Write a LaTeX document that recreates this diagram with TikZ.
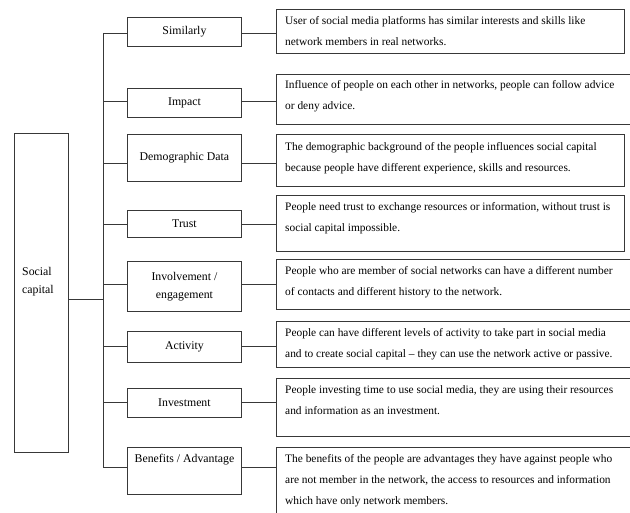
\documentclass[tikz,border=0pt]{standalone}
\usepackage{fontspec}
\setmainfont{Liberation Serif}
\begin{document}
\begin{tikzpicture}[x=1pt,y=-1pt,
  ln/.style={draw=black!78,line width=0.9pt},
  box/.style={ln,rectangle,inner sep=0pt,anchor=north west},
  rtext/.style={inner sep=0pt,anchor=north west,align=left,font=\fontsize{11.4}{21}\selectfont},
  mtext/.style={inner sep=0pt,align=center,font=\fontsize{11.8}{17.5}\selectfont}]
\useasboundingbox (0,0) rectangle (630,513);
\clip (0,0) rectangle (630,513);
% root
\node[box,minimum width=54pt,minimum height=319pt] (sc) at (14,133) {};
\node[inner sep=0pt,anchor=north west,align=left,font=\fontsize{11.8}{18}\selectfont] (sct) at (22,267) {Social\\capital};
% trunk
\coordinate (ttop) at (103,33);
\coordinate (tbot) at (103,467);
\draw[ln] (ttop) -- (tbot);
\coordinate (tj) at (103,299);
\draw[ln] (sc.east |- tj) -- (tj);
% middle boxes
\foreach \n/\t/\b/\y/\lab in {
  1/17/46/33/{Similarly},
  2/88/117/101/{Impact},
  3/134/181/163/{Demographic Data},
  4/210/237/224/{Trust},
  5/261/311/284/{Involvement /\\engagement},
  6/331/362/346/{Activity},
  7/388/417/402/{Investment}}{
  \pgfmathsetmacro{\h}{\b-\t}
  \node[box,minimum width=114pt,minimum height=\h pt] (m\n) at (127,\t) {};
  \node[mtext] (mt\n) at (m\n.center) {\lab};
  \coordinate (b\n) at (103,\y);
}
\node[box,minimum width=114pt,minimum height=47pt] (m8) at (127,447) {};
\node[mtext,anchor=north] (mt8) at ([yshift=-7pt]m8.north) {Benefits / Advantage};
\coordinate (b8) at (103,467);
% right boxes
\foreach \n/\t/\w/\h in {1/9/348/44, 2/74/370/50, 3/134/348/52, 4/195/348/56,
  5/259/370/50, 6/321/370/46, 7/378/370/58, 8/447/370/90}{
  \node[box,minimum width=\w pt,minimum height=\h pt] (r\n) at (276,\t) {};
}
\node[rtext] (rt1) at ([shift={(9,7)}]r1.north west) {User of social media platforms has similar interests and skills like\\network members in real networks.};
\node[rtext] (rt2) at ([shift={(9,6)}]r2.north west) {Influence of people on each other in networks, people can follow advice\\or deny advice.};
\node[rtext] (rt3) at ([shift={(9,8)}]r3.north west) {The demographic background of the people influences social capital\\because people have different experience, skills and resources.};
\node[rtext] (rt4) at ([shift={(9,7)}]r4.north west) {People need trust to exchange resources or information, without trust is\\social capital impossible.};
\node[rtext] (rt5) at ([shift={(9,7)}]r5.north west) {People who are member of social networks can have a different number\\of contacts and different history to the network.};
\node[rtext] (rt6) at ([shift={(9,7)}]r6.north west) {People can have different levels of activity to take part in social media\\and to create social capital -- they can use the network active or passive.};
\node[rtext] (rt7) at ([shift={(9,7)}]r7.north west) {People investing time to use social media, they are using their resources\\and information as an investment.};
\node[rtext] (rt8) at ([shift={(9,7)}]r8.north west) {The benefits of the people are advantages they have against people who\\are not member in the network, the access to resources and information\\which have only network members.};
% connectors
\foreach \n in {1,...,8}{
  \draw[ln] (b\n) -- (b\n -| m\n.west);
  \draw[ln] (b\n -| m\n.east) -- (b\n -| r\n.west);
}
\end{tikzpicture}
\end{document}
